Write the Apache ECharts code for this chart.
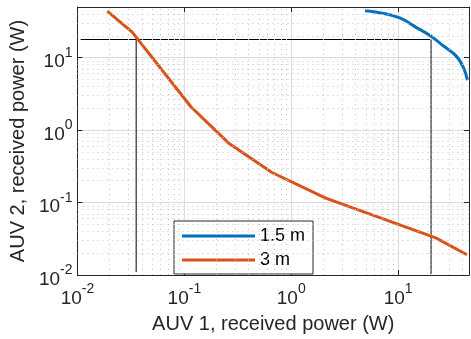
<!DOCTYPE html>
<html>
<head>
<meta charset="utf-8">
<script src="https://cdn.jsdelivr.net/npm/echarts@6/dist/echarts.min.js"></script>
<style>
  html, body { margin: 0; padding: 0; background: #fff; }
  #chart { width: 471px; height: 339px; }
</style>
</head>
<body>
<div id="chart"></div>
<script>
// curve values (log-log)
const blueX = [4.9, 7.3, 10.5, 14.6, 20, 26.4, 35, 40.8, 44.5];
const blueY = [44.5, 40.8, 35, 26.4, 20, 14.6, 10.5, 7.3, 4.9];
const orangeX = [0.019, 0.0325, 0.115, 0.26, 0.66, 2.1, 22.5, 44];
const orangeY = [44, 22.5, 2.1, 0.66, 0.26, 0.115, 0.0325, 0.019];

// black guide lines
const guideH = [[0.0107, 17.8], [20.3, 17.8]];
const guideV1 = [[0.0354, 17.8], [0.0354, 0.011]];
const guideV2 = [[20.3, 17.8], [20.3, 0.0103]];

const seriesNames = ['1.5 m', '3 m'];
const xRange = [0.01, 46];
const yRange = [0.01, 50];

const FONT = '"Liberation Sans", Arial, Helvetica, sans-serif';
const AX = '#262626';

// minor grid at 2..9 x 10^k
function minorValues(lo, hi) {
  const out = [];
  for (let k = -2; k <= 1; k++) {
    for (let m = 2; m <= 9; m++) {
      const v = m * Math.pow(10, k);
      if (v > lo && v < hi) out.push(v);
    }
  }
  return out;
}

function powLabel(v) {
  const l = Math.log10(v);
  const e = Math.round(l);
  if (Math.abs(l - e) > 1e-6) return '';
  return '{b|10}{s|' + e + '}';
}

const labelRich = {
  b: { fontSize: 19, fontFamily: FONT, color: AX, padding: [9, 0, 0, 0] },
  s: { fontSize: 14, fontFamily: FONT, color: AX, padding: [0, 0, 9, 0] }
};

function logAxis(range, pos, main, extra) {
  return Object.assign({
    type: 'log',
    logBase: 10,
    min: range[0],
    max: range[1],
    position: pos,
    axisLine: { show: true, lineStyle: { color: AX, width: 1 } },
    axisTick: { show: true, inside: true, length: 5, lineStyle: { color: AX } },
    axisLabel: main
      ? { show: true, margin: 5, formatter: powLabel, rich: labelRich, showMaxLabel: false }
      : { show: false },
    splitLine: main
      ? { show: true, lineStyle: { color: '#dcdcdc', width: 1 } }
      : { show: false }
  }, extra || {});
}

const chart = echarts.init(document.getElementById('chart'));

const minorLines = minorValues(xRange[0], xRange[1]).map(v => ({ xAxis: v }))
  .concat(minorValues(yRange[0], yRange[1]).map(v => ({ yAxis: v })));

const option = {
  animation: false,
  backgroundColor: '#fff',
  grid: { left: 75, right: 2, top: 7, bottom: 59 },
  legend: {
    data: seriesNames,
    orient: 'vertical',
    left: 174,
    top: 221,
    icon: 'rect',
    itemWidth: 73,
    itemHeight: 3,
    itemGap: 6,
    padding: [6, 8, 5, 8],
    backgroundColor: '#fff',
    borderColor: AX,
    borderWidth: 1,
    borderRadius: 0,
    textStyle: { fontSize: 18, fontFamily: FONT, color: '#000', lineHeight: 18 }
  },
  xAxis: [
    logAxis(xRange, 'bottom', true, {
      name: 'AUV 1, received power (W)',
      nameLocation: 'middle',
      nameGap: 39,
      nameTextStyle: { fontSize: 20, fontFamily: FONT, color: AX }
    }),
    logAxis(xRange, 'top', false)
  ],
  yAxis: [
    logAxis(yRange, 'left', true, {
      name: 'AUV 2, received power (W)',
      nameLocation: 'middle',
      nameGap: 49,
      nameTextStyle: { fontSize: 20, fontFamily: FONT, color: AX }
    }),
    logAxis(yRange, 'right', false)
  ],
  series: [
    {
      name: 'guideH',
      type: 'line',
      data: guideH,
      symbol: 'none',
      z: 1,
      lineStyle: { color: '#000', width: 1 },
      markLine: {
        silent: true,
        symbol: ['none', 'none'],
        label: { show: false },
        lineStyle: { color: '#c4c4c4', width: 1, type: [1, 4] },
        data: minorLines
      }
    },
    { name: 'guideV1', type: 'line', data: guideV1, symbol: 'none', z: 1, lineStyle: { color: '#000', width: 1 } },
    { name: 'guideV2', type: 'line', data: guideV2, symbol: 'none', z: 1, lineStyle: { color: '#000', width: 1 } },
    {
      name: seriesNames[0],
      type: 'line',
      data: blueX.map((x, i) => [x, blueY[i]]),
      symbol: 'none',
      smooth: 0.4,
      z: 3,
      color: '#0072BD',
      lineStyle: { color: '#0072BD', width: 3 }
    },
    {
      name: seriesNames[1],
      type: 'line',
      data: orangeX.map((x, i) => [x, orangeY[i]]),
      symbol: 'none',
      z: 3,
      color: '#D95319',
      lineStyle: { color: '#D95319', width: 3 }
    }
  ]
};

chart.setOption(option);
</script>
</body>
</html>
